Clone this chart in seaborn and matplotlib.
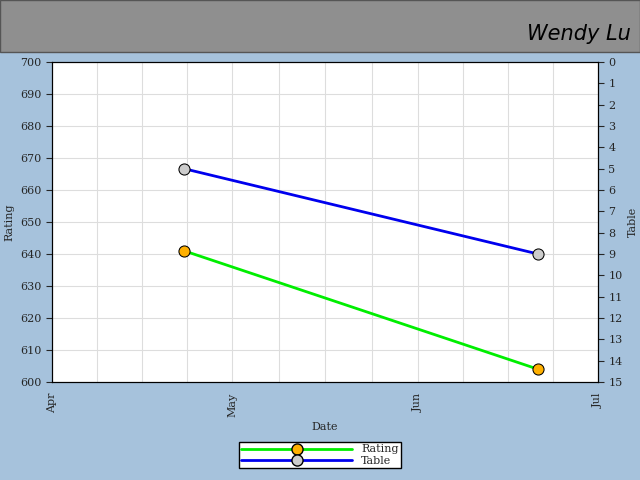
import matplotlib
matplotlib.use("Agg")
import matplotlib.pyplot as plt
import matplotlib.dates as mdates
import seaborn as sns
import pandas as pd
import numpy as np
from matplotlib.lines import Line2D

dates = pd.to_datetime(["2010-04-23", "2010-06-21"])
rating = [641, 604]
table = [5, 9]
tick_labels = ["Apr", "May", "Jun", "Jul"]
tick_dates = pd.to_datetime(["2010-04-01", "2010-05-01", "2010-06-01", "2010-07-01"])

sns.set_style("white")
plt.rcParams['font.family'] = ['DejaVu Serif']
bg = "#a6c2dc"
fig = plt.figure(figsize=(6.4, 4.8), dpi=100, facecolor=bg)
fig.patches.append(plt.Rectangle((0, 1-52/480), 1, 52/480, transform=fig.transFigure,
                                 facecolor="#8f8f8f", edgecolor="#555555", lw=1))
fig.text(0.985, 1-40/480, "Wendy Lu", ha="right", va="baseline", fontsize=15,
         family="DejaVu Sans", style="italic", color="black")

ax = fig.add_axes([52/640, 1-382/480, 546/640, 320/480])
ax.set_facecolor("white")
df = pd.DataFrame({"Date": dates, "Rating": rating, "Table": table})
sns.lineplot(data=df, x="Date", y="Rating", ax=ax, color="#00ee00", lw=2,
             marker="o", markersize=8, markerfacecolor="#ffb000", markeredgecolor="black")
ax.set_ylim(600, 700)
ax.set_yticks(np.arange(600, 701, 10))
ax.set_xlim(tick_dates[0], tick_dates[-1])
ax.set_xticks(tick_dates)
ax.set_xticklabels(tick_labels, rotation=90)
minor = []
for i in range(3):
    a, b = tick_dates[i], tick_dates[i+1]
    for k in range(1, 4):
        minor.append(a + (b - a) * k / 4)
ax.set_xticks(minor, minor=True)
ax.grid(True, which="both", color="#dddddd", lw=0.8)
ax.tick_params(labelsize=8, direction="out", length=4, which="both")
ax.set_xlabel("Date", fontsize=8)
ax.set_ylabel("Rating", fontsize=8)

ax2 = ax.twinx()
sns.lineplot(data=df, x="Date", y="Table", ax=ax2, color="#0000ee", lw=2,
             marker="o", markersize=8, markerfacecolor="#cccccc", markeredgecolor="black")
ax2.set_ylim(15, 0)
ax2.set_yticks(range(0, 16))
ax2.tick_params(labelsize=8, direction="out", length=4)
ax2.set_ylabel("Table", fontsize=8)
ax2.grid(False)
for a in (ax, ax2):
    for s in a.spines.values():
        s.set_color("black")

handles = [Line2D([], [], color="#00ee00", lw=2, marker="o", markersize=8,
                  markerfacecolor="#ffb000", markeredgecolor="black", markevery=[0, -1]),
           Line2D([], [], color="#0000ee", lw=2, marker="o", markersize=8,
                  markerfacecolor="#cccccc", markeredgecolor="black", markevery=[0, -1])]
fig.legend(handles, ["Rating", "Table"], loc="center", bbox_to_anchor=(320/640, 1-455/480),
           fontsize=8, handlelength=10, frameon=True, fancybox=False, edgecolor="black",
           borderpad=0.2, labelspacing=0.1, facecolor="white", framealpha=1)
fig.savefig("out.png", dpi=100, facecolor=bg)
